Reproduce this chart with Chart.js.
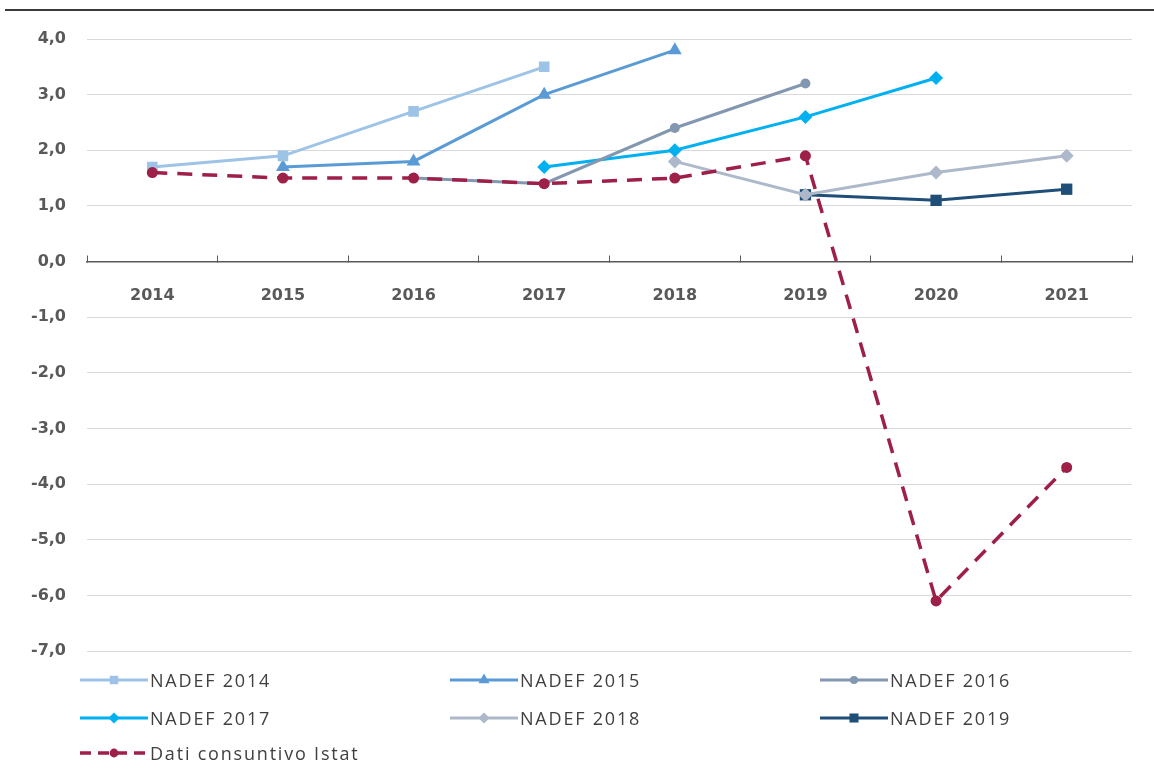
<!DOCTYPE html>
<html lang="it">
<head>
<meta charset="UTF-8">
<title>NADEF e dati consuntivo Istat</title>
<script src="https://cdn.jsdelivr.net/npm/chart.js@4.4.1/dist/chart.umd.min.js"></script>
<style>
  body { margin: 0; background: #fff; }
  #wrap { position: relative; width: 1154px; height: 778px; }
  #topline { position: absolute; left: 5px; right: 0; top: 9px; border-top: 2px solid #3a3a3a; }
  #legend { position: absolute; left: 80px; top: 668px; width: 1070px;
            font-family: 'Open Sans', sans-serif; font-size: 18px; letter-spacing: 1.8px; color: #404040; }
  .item { position: absolute; display: flex; align-items: center; height: 24px; white-space: nowrap; }
  .item canvas { margin-right: 2px; }
</style>
</head>
<body>
<div id="wrap">
  <div id="topline"></div>
  <canvas id="myChart" width="1154" height="778"></canvas>
  <div id="legend"></div>
</div>

<script>
    // categories
    const years = ['2014', '2015', '2016', '2017', '2018', '2019', '2020', '2021'];

    // series
    const nadef2014 = [1.7, 1.9, 2.7, 3.5, null, null, null, null];
    const nadef2015 = [null, 1.7, 1.8, 3.0, 3.8, null, null, null];
    const nadef2016 = [null, null, 1.5, 1.4, 2.4, 3.2, null, null];
    const nadef2017 = [null, null, null, 1.7, 2.0, 2.6, 3.3, null];
    const nadef2018 = [null, null, null, null, 1.8, 1.2, 1.6, 1.9];
    const nadef2019 = [null, null, null, null, null, 1.2, 1.1, 1.3];
    const istat     = [1.6, 1.5, 1.5, 1.4, 1.5, 1.9, -6.1, -3.7];

    // y ticks
    const yMin = -7;
    const yMax = 4;

    function serie(label, data, color, style, radius) {
        return {
            label: label,
            data: data,
            borderColor: color,
            backgroundColor: color,
            borderWidth: 3,
            pointStyle: style,
            pointRadius: radius,
            pointBorderWidth: 0,
            spanGaps: false,
            order: 1
        };
    }

    const datasets = [
        serie('NADEF 2014', nadef2014, '#9dc3e6', 'rect', 7.5),
        serie('NADEF 2015', nadef2015, '#5b9bd5', 'triangle', 8),
        serie('NADEF 2016', nadef2016, '#8497b0', 'circle', 5),
        serie('NADEF 2017', nadef2017, '#00b0f0', 'rectRot', 7),
        serie('NADEF 2018', nadef2018, '#adb9ca', 'rectRot', 7),
        serie('NADEF 2019', nadef2019, '#1f4e79', 'rect', 8),
        Object.assign(serie('Dati consuntivo Istat', istat, '#9e1f47', 'circle', 5.5),
            { borderDash: [15, 10], borderWidth: 3.5, order: 0 })
    ];

    Chart.defaults.font.family = 'DejaVu Sans';
    const tickFont = { size: 16, weight: 'bold' };

    const ctx = document.getElementById('myChart');
    const myChart = new Chart(ctx, {
        type: 'line',
        data: { labels: years, datasets: datasets },
        options: {
            responsive: false,
            animation: false,
            layout: { padding: { top: 39, right: 22, bottom: 127, left: 0 } },
            plugins: {
                legend: { display: false },
                tooltip: { enabled: false }
            },
            scales: {
                x: {
                    position: { y: 0 },
                    offset: true,
                    grid: { offset: true, drawOnChartArea: false, drawTicks: true, tickLength: -7, color: '#595959', lineWidth: 1 },
                    border: { color: '#595959', width: 1.5 },
                    ticks: { padding: 32, font: tickFont, color: '#595959' }
                },
                y: {
                    min: yMin,
                    max: yMax,
                    afterFit: function(scale) { scale.width = 87; },
                    grid: { color: '#d9d9d9', lineWidth: 1, drawTicks: false },
                    border: { display: false },
                    ticks: {
                        stepSize: 1,
                        padding: 21,
                        font: tickFont,
                        color: '#595959',
                        callback: function(value) {
                            return value.toFixed(1).replace('.', ',');
                        }
                    }
                }
            }
        }
    });

    // legend in three columns, like the original
    const legendBox = document.getElementById('legend');
    const colX = [0, 370, 740];
    const rowY = [0, 38, 73];
    datasets.forEach(function(ds, i) {
        const item = document.createElement('div');
        item.className = 'item';
        item.style.left = colX[i % 3] + 'px';
        item.style.top = rowY[Math.floor(i / 3)] + 'px';

        const c = document.createElement('canvas');
        c.width = 68; c.height = 24;
        const g = c.getContext('2d');
        g.strokeStyle = ds.borderColor;
        g.fillStyle = ds.backgroundColor;
        g.lineWidth = ds.borderWidth;
        if (ds.borderDash) g.setLineDash([11, 7]);
        g.beginPath();
        g.moveTo(0, 12);
        g.lineTo(68, 12);
        g.stroke();
        g.setLineDash([]);
        Chart.helpers.drawPoint(g, { pointStyle: ds.pointStyle, radius: ds.pointRadius * 0.8, rotation: 0, borderWidth: 0 }, 34, 12);

        const span = document.createElement('span');
        span.textContent = ds.label;
        item.appendChild(c);
        item.appendChild(span);
        legendBox.appendChild(item);
    });
</script>
</body>
</html>
